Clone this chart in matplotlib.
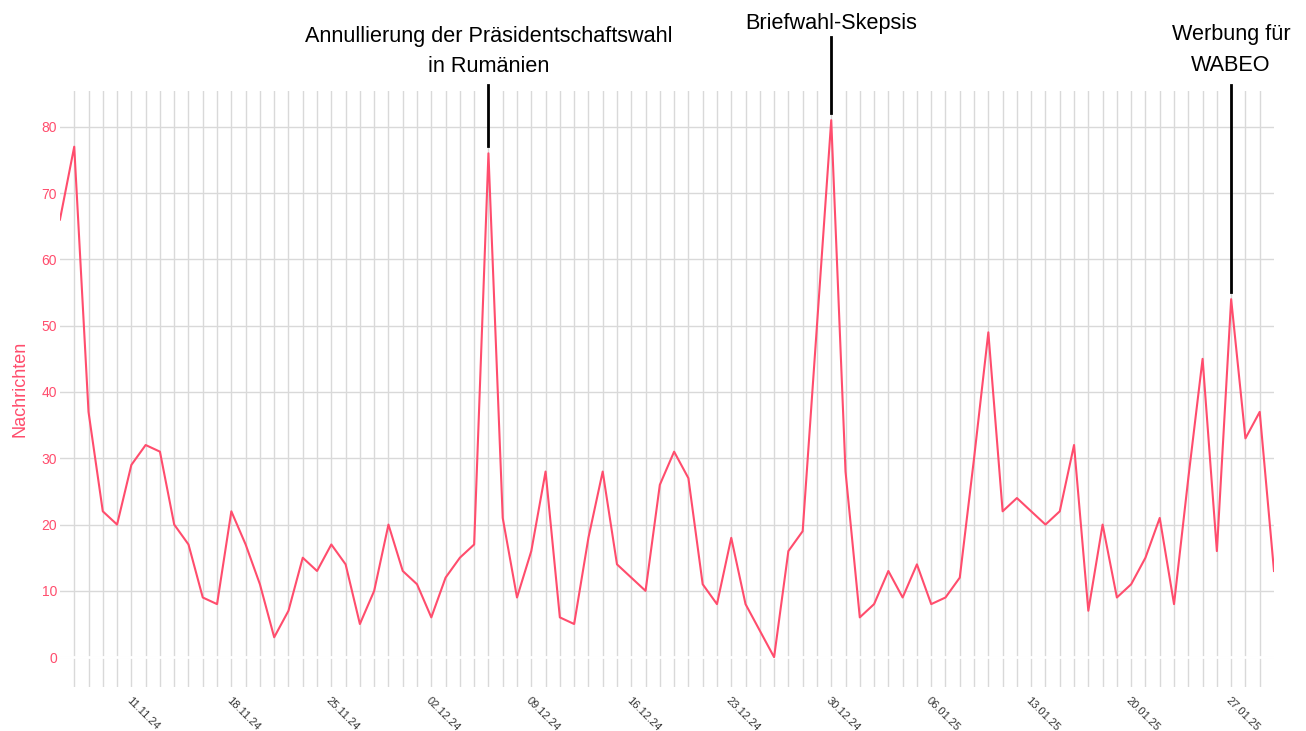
import matplotlib.pyplot as plt
import matplotlib.dates as mdates
import pandas as pd

plt.rcParams['font.family'] = ['Liberation Sans', 'DejaVu Sans']

# daily message counts, 06.11.24 - 30.01.25
start_date = '2024-11-06'
nov_counts = [66, 77, 37, 22, 20, 29, 32, 31, 20, 17, 9, 8, 22, 17, 11, 3, 7, 15, 13, 17, 14, 5, 10, 20, 13]
dec_counts = [11, 6, 12, 15, 17, 76, 21, 9, 16, 28, 6, 5, 18, 28, 14, 12, 10, 26, 31, 27, 11, 8, 18, 8, 4, 0,
              16, 19, 50, 81, 28]
jan_counts = [6, 8, 13, 9, 14, 8, 9, 12, 30, 49, 22, 24, 22, 20, 22, 32, 7, 20, 9, 11, 15, 21, 8, 27, 45, 16,
              54, 33, 37, 13]
messages = nov_counts + dec_counts + jan_counts

tick_labels = ['11.11.24', '18.11.24', '25.11.24', '02.12.24', '09.12.24', '16.12.24',
               '23.12.24', '30.12.24', '06.01.25', '13.01.25', '20.01.25', '27.01.25']
y_ticks = [0, 10, 20, 30, 40, 50, 60, 70, 80]

event_days = ['06.12.24', '30.12.24', '27.01.25']
event_labels = ['Annullierung der Präsidentschaftswahl\nin Rumänien', 'Briefwahl-Skepsis', 'Werbung für\nWABEO']
event_tops = [86.3, 93.5, 86.3]
text_gap = [5.5, 2.5, 6.5]  # points between line top and label

pink = '#ff4d6d'
grid_col = '#d9d9d9'

dates = pd.date_range(start_date, periods=len(messages), freq='D')
tick_dates = pd.to_datetime(tick_labels, format='%d.%m.%y')
event_dates = pd.to_datetime(event_days, format='%d.%m.%y')
series = pd.Series(messages, index=dates)

fig = plt.figure(figsize=(13.06, 7.31), dpi=100)
ax = fig.add_axes([0.0459, 0.0602, 0.9296, 0.8153])

ax.plot(dates, messages, color=pink, lw=1.5, zorder=3)
ax.axhline(0, color='white', lw=2, zorder=1)

ax.set_xlim(dates[0], dates[-1])
ax.set_ylim(-4.5, 85.4)

ax.set_xticks(dates[1:-1], minor=True)
ax.set_xticks(tick_dates)
ax.set_xticklabels(tick_labels, rotation=-45, ha='left', rotation_mode='anchor',
                   fontsize=8, color='#333333')
ax.set_yticks(y_ticks)
ax.set_yticklabels([str(v) for v in y_ticks], fontsize=10, color=pink)

ax.set_axisbelow(True)
ax.grid(axis='x', which='both', color=grid_col, lw=1)
ax.grid(axis='y', which='major', color=grid_col, lw=1)
ax.tick_params(which='both', length=0)
ax.tick_params(axis='x', pad=6)
ax.tick_params(axis='y', pad=2)
for s in ax.spines.values():
    s.set_visible(False)

ax.set_ylabel('Nachrichten', color=pink, fontsize=13)
ax.yaxis.set_label_coords(-0.026, 0.5)

for d, label, top, gap in zip(event_dates, event_labels, event_tops, text_gap):
    val = series[d]
    ax.plot([d, d], [val + 1.1, top], color='black', lw=2, clip_on=False, zorder=4)
    ax.annotate(label, xy=(d, top), xytext=(0, gap), textcoords='offset points',
                ha='center', va='bottom', fontsize=15.6, linespacing=1.6,
                annotation_clip=False)

fig.savefig('out.png', dpi=100, facecolor='w')
